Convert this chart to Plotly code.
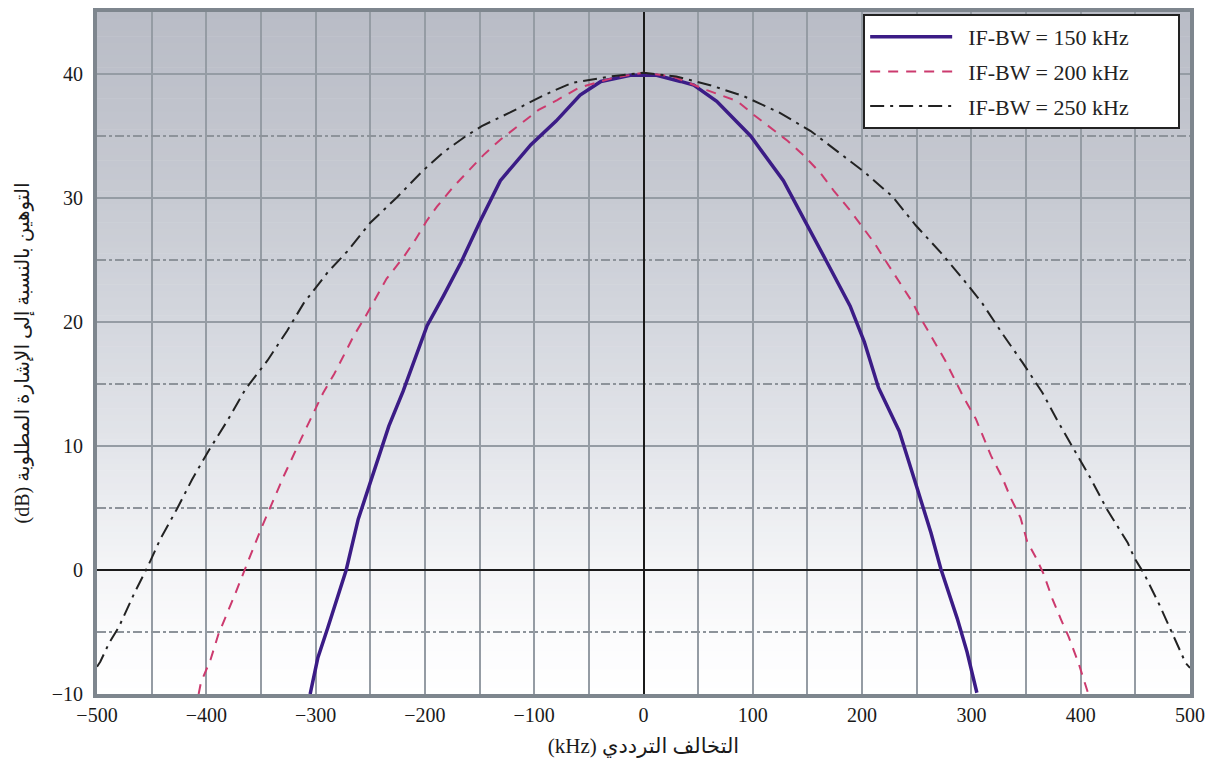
import plotly.graph_objects as go

# ---------------- data ----------------
series_names = ["IF-BW = 150 kHz", "IF-BW = 200 kHz", "IF-BW = 250 kHz"]

bw150_x = [-305, -298, -289, -272, -261, -248, -233, -220, -198, -183, -167, -149, -131,
           -103, -80, -58, -39, -12, 12, 34, 46, 67, 80, 98, 128, 150, 168, 189, 202, 215,
           234, 250, 263, 272, 287, 296, 305]
bw150_y = [-10, -7.1, -4.7, 0.0, 4.1, 7.5, 11.6, 14.4, 19.7, 22.1, 24.8, 28.2, 31.4,
           34.3, 36.2, 38.3, 39.4, 39.9, 39.9, 39.4, 39.1, 37.8, 36.6, 35.0, 31.4, 27.7, 24.8,
           21.3, 18.4, 14.7, 11.2, 6.7, 3.0, 0.1, -3.9, -6.6, -9.9]

bw200_x = [-407, -405, -396, -389, -373, -365, -360, -350, -337, -329, -311, -302, -293,
           -283, -265, -254, -235, -219, -209, -198, -189, -174, -160, -146, -131, -113,
           -96, -79, -59, -27, 0, 27, 58, 86, 101, 132, 147, 162, 174, 189, 200, 211, 224,
           246, 253, 264, 276, 293, 304, 318, 328, 336, 345, 351, 359, 366, 374, 382, 389,
           398, 404, 407]
bw200_y = [-10, -9.1, -7.2, -5.2, -1.8, -0.1, 1.1, 3.3, 5.9, 7.6, 11.0, 12.7, 14.3,
           15.8, 18.9, 20.5, 23.5, 25.3, 26.6, 28.2, 29.3, 30.9, 32.2, 33.5, 34.7, 35.9,
           37.1, 37.9, 38.9, 39.7, 40.1, 39.8, 38.7, 37.8, 36.7, 34.6, 33.4, 32.0, 30.6,
           29.0, 27.7, 26.4, 24.6, 21.6, 20.4, 18.7, 16.9, 13.9, 12.2, 9.2, 7.5, 5.8, 4.2,
           2.3, 1.0, -0.3, -2.3, -4.0, -5.4, -7.5, -9.2, -10]

bw250_x = [-500, -497, -489, -480, -466, -454, -442, -427, -413, -398, -381, -364, -344,
           -326, -311, -289, -271, -250, -225, -203, -183, -164, -148, -122, -91, -65, -30,
           0, 30, 61, 92, 124, 153, 177, 202, 228, 249, 272, 292, 310, 328, 347, 365, 379,
           395, 409, 424, 443, 449, 458, 472, 484, 496, 500]
bw250_y = [-7.8, -7.4, -5.9, -4.6, -1.9, 0.2, 2.5, 4.9, 7.3, 9.6, 12.0, 14.6, 16.9,
           19.3, 21.5, 24.0, 25.7, 28.0, 30.1, 32.1, 33.7, 34.9, 35.8, 36.9, 38.3, 39.3,
           39.8, 40.1, 39.8, 39.1, 38.2, 36.9, 35.4, 33.8, 32.1, 30.1, 27.8, 25.6, 23.5,
           21.5, 19.1, 16.7, 14.3, 12.0, 9.6, 7.4, 4.9, 2.2, 1.0, -0.3, -2.8, -5.1, -7.5,
           -7.9]

x_tick_vals = [-500, -400, -300, -200, -100, 0, 100, 200, 300, 400, 500]
y_tick_vals = [-10, 0, 10, 20, 30, 40]

x_title = "(kHz) التخالف الترددي"
y_title = "(dB) التوهين بالنسبة إلى الإشارة المطلوبة"

# ---------------- styling ----------------
SERIF = "Liberation Serif, Times New Roman, DejaVu Serif, serif"
AR_FONT = "Liberation Serif, DejaVu Sans, Noto Sans, serif"
GRID = "#959ca4"
FRAME = "#7e868e"
LEAD = "\u00a0" * 2   # gap between legend symbol and label
PAD = "\u00a0" * 8    # extra room on the right of legend labels

fig = go.Figure()

styles = [
    dict(color="#3b1c86", width=3.5, dash="solid"),
    dict(color="#cc3a6e", width=2, dash="10px,8px"),
    dict(color="#222222", width=2, dash="14px,6px,3px,6px"),
]
for i, (xs, ys) in enumerate([(bw150_x, bw150_y), (bw200_x, bw200_y), (bw250_x, bw250_y)]):
    fig.add_trace(go.Scatter(
        x=xs, y=ys, mode="lines", name=LEAD + series_names[i] + PAD,
        line=styles[i], legendgroup=f"g{i}", hoverinfo="skip",
    ))

# vertical background gradient (white at bottom -> grey-blue at top), drawn below grid
stops = [(-10, (255, 255, 255)), (-6, (252, 252, 253)), (0, (244, 245, 247)),
         (10, (227, 229, 234)), (20, (212, 215, 222)), (30, (199, 202, 210)),
         (45, (185, 188, 198))]

def col_at(v):
    for (a, ca), (b, cb) in zip(stops[:-1], stops[1:]):
        if a <= v <= b:
            t = (v - a) / (b - a)
            return "rgb(%d,%d,%d)" % tuple(round(ca[k] + t * (cb[k] - ca[k])) for k in range(3))
    return "rgb(%d,%d,%d)" % stops[-1][1]

shapes = []
step = 0.5
n = int(55 / step)
for i in range(n):
    y0 = -10 + i * step
    shapes.append(dict(type="rect", xref="x", yref="y", x0=-500, x1=500, y0=y0, y1=y0 + step + 0.05,
                       fillcolor=col_at(y0 + step / 2), line=dict(width=0), layer="below"))

fig.update_layout(
    width=1199, height=752,
    margin=dict(l=89, r=17, t=0, b=66),
    paper_bgcolor="white", plot_bgcolor="white",
    shapes=shapes,
    showlegend=True,
    legend=dict(
        x=0.991, y=0.997, xanchor="right", yanchor="top",
        bgcolor="white", bordercolor="#222222", borderwidth=2,
        font=dict(family=SERIF, size=22, color="#222222"),
        tracegroupgap=3, itemwidth=82,
    ),
    font=dict(family=SERIF, size=20, color="#1a1a1a"),
)

fig.update_xaxes(
    range=[-500, 500], tickvals=x_tick_vals, ticks="",
    showgrid=True, gridcolor=GRID, gridwidth=2,
    minor=dict(dtick=50, tick0=0, showgrid=True, gridcolor=GRID, gridwidth=2),
    zeroline=True, zerolinecolor="#1a1a1a", zerolinewidth=2,
    showline=True, mirror=True, linecolor=FRAME, linewidth=4,
    tickfont=dict(family=SERIF, size=20, color="#1a1a1a"),
    title=dict(text=x_title, font=dict(family=AR_FONT, size=21, color="#1a1a1a"), standoff=14),
)
fig.update_yaxes(
    range=[-10, 45], tickvals=y_tick_vals, ticks="",
    showgrid=True, gridcolor=GRID, gridwidth=2,
    minor=dict(dtick=5, tick0=0, showgrid=True, gridcolor="#8d939a", gridwidth=1.5, griddash="dashdot"),
    zeroline=True, zerolinecolor="#1a1a1a", zerolinewidth=2,
    showline=True, mirror=True, linecolor=FRAME, linewidth=4,
    tickfont=dict(family=SERIF, size=20, color="#1a1a1a"),
    ticklabelstandoff=6,
    title=dict(text=y_title, font=dict(family=AR_FONT, size=20, color="#1a1a1a"), standoff=18),
)

fig.write_html("out.html")
